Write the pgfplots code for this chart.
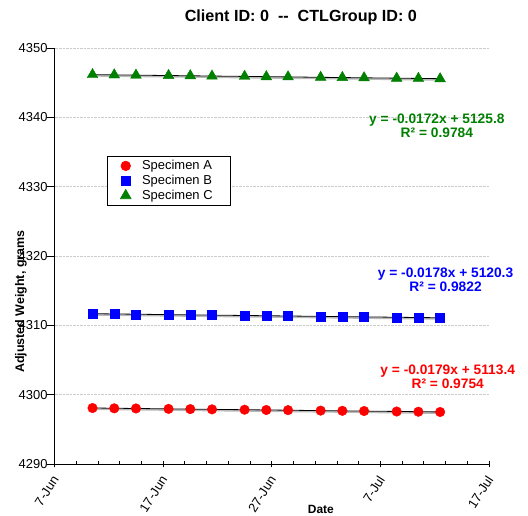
\documentclass[border=0pt]{standalone}
\usepackage{fontspec}
\setmainfont{Liberation Sans}
\usepackage{pgfplots}
\usepackage{pgfplotstable}
\pgfplotsset{compat=1.18}
\definecolor{cgreen}{RGB}{0,128,0}
\definecolor{cblue}{RGB}{0,0,255}
\definecolor{cred}{RGB}{255,0,0}
\pgfplotstableread{
d w
3.5 4298.07
5.5 4298.03
7.5 4298.01
10.5 4297.95
12.5 4297.92
14.5 4297.88
17.5 4297.83
19.5 4297.79
21.5 4297.77
24.5 4297.70
26.5 4297.67
28.5 4297.64
31.5 4297.57
33.5 4297.54
35.5 4297.50
}\tA
\pgfplotstableread{
d w
3.5 4311.66
5.5 4311.62
7.5 4311.60
10.5 4311.55
12.5 4311.50
14.5 4311.49
17.5 4311.43
19.5 4311.40
21.5 4311.36
24.5 4311.30
26.5 4311.27
28.5 4311.22
31.5 4311.16
33.5 4311.12
35.5 4311.07
}\tB
\pgfplotstableread{
d w
3.5 4346.16
5.5 4346.12
7.5 4346.08
10.5 4346.03
12.5 4346.00
14.5 4345.95
17.5 4345.91
19.5 4345.86
21.5 4345.84
24.5 4345.77
26.5 4345.74
28.5 4345.70
31.5 4345.64
33.5 4345.61
35.5 4345.56
}\tC
\begin{document}
\begin{tikzpicture}
\path[use as bounding box] (-54.5bp,-52bp) rectangle (473.5bp,464bp);
\begin{axis}[
  scale only axis, width=434.5bp, height=416bp,
  at={(0,0)}, anchor=south west,
  xmin=0, xmax=40, ymin=4290, ymax=4350,
  axis x line=bottom, axis y line=left,
  axis line style={-, black, line width=0.8bp},
  xtick={0,10,20,30,40},
  xticklabels={7-Jun,17-Jun,27-Jun,7-Jul,17-Jul},
  minor x tick num=4,
  ytick={4290,4300,...,4350},
  tick align=center,
  major tick length=7bp, minor tick length=3bp,
  every tick/.style={black, line width=0.8bp},
  y tick style={xshift=-3.5bp},
  minor x tick style={yshift=1.5bp},
  ymajorgrids,
  y grid style={gray!40, densely dotted, line width=0.6bp},
  /pgf/number format/assume math mode=true,
  /pgf/number format/set thousands separator={},
  tick label style={font=\fontsize{13}{15}\selectfont},
  x tick label style={xshift=3bp, yshift=-7bp, rotate=57, anchor=east},
  clip=false,
  legend style={at={(rel axis cs:0.121,0.74)}, anchor=north west, draw=black, line width=0.6bp,
    font=\fontsize{13}{15}\selectfont, row sep=0bp, inner xsep=13bp, inner ysep=2bp,
    cells={anchor=west}, /tikz/every odd column/.append style={column sep=9bp}},
  legend cell align=left,
]
\addplot[forget plot, gray!55, line width=1.6bp, yshift=-1.2bp] table[x=d, y={create col/linear regression={y=w}}] {\tA};
\addplot[forget plot, black, line width=0.8bp] table[x=d, y={create col/linear regression={y=w}}] {\tA};
\addplot[forget plot, gray!55, line width=1.6bp, yshift=-1.2bp] table[x=d, y={create col/linear regression={y=w}}] {\tB};
\addplot[forget plot, black, line width=0.8bp] table[x=d, y={create col/linear regression={y=w}}] {\tB};
\addplot[forget plot, gray!55, line width=1.6bp, yshift=-1.2bp] table[x=d, y={create col/linear regression={y=w}}] {\tC};
\addplot[forget plot, black, line width=0.8bp] table[x=d, y={create col/linear regression={y=w}}] {\tC};
\addplot[only marks, mark=*, mark size=4.8bp, mark options={cred, fill=cred}] table[x=d, y=w] {\tA};
\addlegendentry{Specimen A\hspace*{3bp}}
\addplot[only marks, mark=square*, mark size=4.5bp, mark options={cblue, fill=cblue}] table[x=d, y=w] {\tB};
\addlegendentry{Specimen B\hspace*{3bp}}
\addplot[only marks, mark=triangle*, mark size=6.2bp, mark options={cgreen, fill=cgreen}] table[x=d, y=w] {\tC};
\addlegendentry{Specimen C\hspace*{3bp}}
\node[align=center, font=\bfseries\fontsize{13.8}{14}\selectfont, text=cgreen] at (axis cs:35.2,4338.8) {y = -0.0172x + 5125.8\\R² = 0.9784};
\node[align=center, font=\bfseries\fontsize{13.8}{14}\selectfont, text=cblue] at (axis cs:36.0,4316.6) {y = -0.0178x + 5120.3\\R² = 0.9822};
\node[align=center, font=\bfseries\fontsize{13.8}{14}\selectfont, text=cred] at (axis cs:36.2,4302.6) {y = -0.0179x + 5113.4\\R² = 0.9754};
\node[font=\bfseries\fontsize{16.2}{18}\selectfont] at (rel axis cs:0.567,1) [yshift=31bp] {Client ID: 0\ \ -{}-\ \ CTLGroup ID: 0};
\node[font=\bfseries\fontsize{12}{14}\selectfont] at (rel axis cs:0.613,0) [yshift=-45bp] {Date};
\node[rotate=90, font=\bfseries\fontsize{12.5}{14}\selectfont] at (rel axis cs:0,0.39) [yshift=33.5bp] {Adjusted Weight, grams};
\end{axis}
\end{tikzpicture}
\end{document}
